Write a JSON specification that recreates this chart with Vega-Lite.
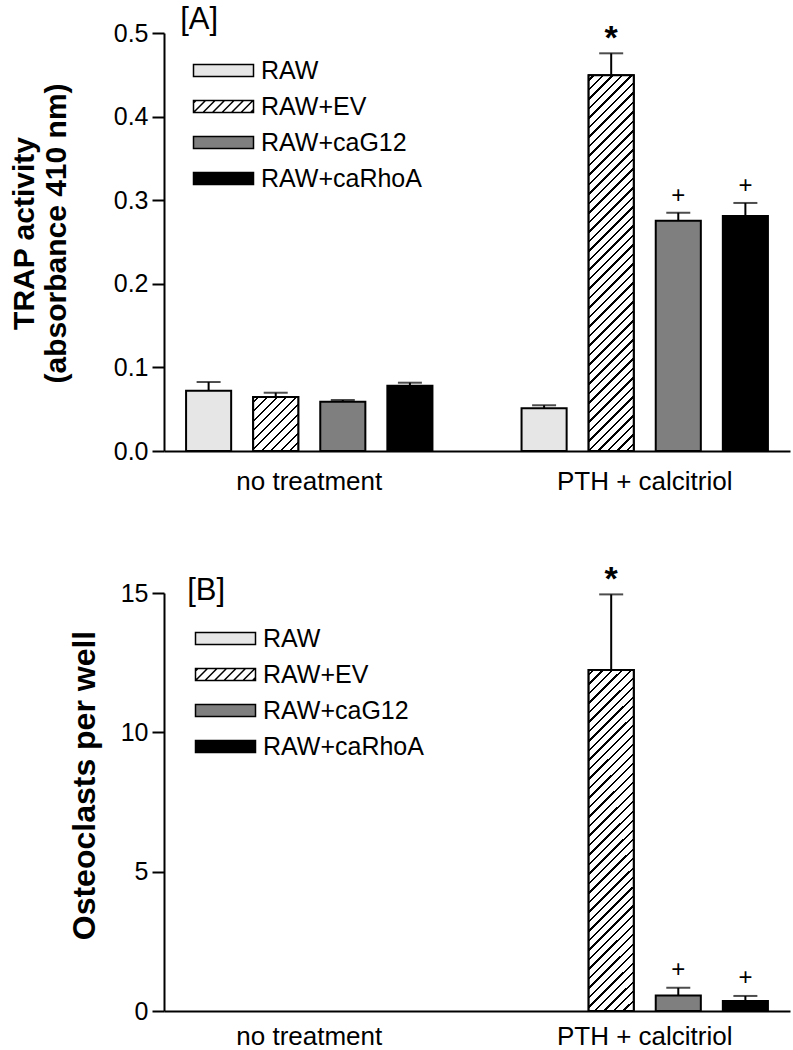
{
  "$schema": "https://vega.github.io/schema/vega-lite/v6.json",
  "autosize": {"type": "none"},
  "padding": {"left": 164, "top": 33, "right": 629, "bottom": 1017},
  "background": "white",
  "config": {
    "view": {"stroke": null},
    "font": "Liberation Sans",
    "axis": {"grid": false, "domainColor": "black", "domainWidth": 2, "tickColor": "black", "tickWidth": 2, "labelColor": "black", "labelFont": "Liberation Sans", "labelFontSize": 25, "labelLimit": 400, "titleColor": "black", "titleFont": "Liberation Sans"},
    "legend": {"orient": "none", "title": null, "padding": 0, "symbolSize": 100, "symbolStrokeColor": "black", "symbolStrokeWidth": 1.5, "labelFont": "Liberation Sans", "labelColor": "black", "labelLimit": 400}
  },
  "resolve": {"scale": {"fill": "independent", "shape": "independent"}, "legend": {"fill": "independent", "shape": "independent"}},
  "datasets": {
    "trap": [
      {"treatment": "no treatment", "cells": "RAW", "mean": 0.072, "upper": 0.0825, "sig": ""},
      {"treatment": "no treatment", "cells": "RAW+EV", "mean": 0.0646, "upper": 0.0697, "sig": ""},
      {"treatment": "no treatment", "cells": "RAW+caG12", "mean": 0.059, "upper": 0.061, "sig": ""},
      {"treatment": "no treatment", "cells": "RAW+caRhoA", "mean": 0.078, "upper": 0.0817, "sig": ""},
      {"treatment": "PTH + calcitriol", "cells": "RAW", "mean": 0.051, "upper": 0.0547, "sig": ""},
      {"treatment": "PTH + calcitriol", "cells": "RAW+EV", "mean": 0.4494, "upper": 0.4757, "sig": "*"},
      {"treatment": "PTH + calcitriol", "cells": "RAW+caG12", "mean": 0.2755, "upper": 0.285, "sig": "+"},
      {"treatment": "PTH + calcitriol", "cells": "RAW+caRhoA", "mean": 0.281, "upper": 0.2967, "sig": "+"}
    ],
    "ocl": [
      {"treatment": "no treatment", "cells": "RAW", "mean": 0, "upper": null, "sig": ""},
      {"treatment": "no treatment", "cells": "RAW+EV", "mean": 0, "upper": null, "sig": ""},
      {"treatment": "no treatment", "cells": "RAW+caG12", "mean": 0, "upper": null, "sig": ""},
      {"treatment": "no treatment", "cells": "RAW+caRhoA", "mean": 0, "upper": null, "sig": ""},
      {"treatment": "PTH + calcitriol", "cells": "RAW", "mean": 0, "upper": null, "sig": ""},
      {"treatment": "PTH + calcitriol", "cells": "RAW+EV", "mean": 12.24, "upper": 14.95, "sig": "*"},
      {"treatment": "PTH + calcitriol", "cells": "RAW+caG12", "mean": 0.56, "upper": 0.83, "sig": "+"},
      {"treatment": "PTH + calcitriol", "cells": "RAW+caRhoA", "mean": 0.36, "upper": 0.54, "sig": "+"}
    ]
  },
  "vconcat": [
    {
      "width": 626,
      "height": 418,
      "data": {"name": "trap"},
      "encoding": {
        "x": {"field": "treatment", "type": "nominal", "sort": ["no treatment", "PTH + calcitriol"], "scale": {"domain": ["no treatment", "PTH + calcitriol"], "paddingInner": 0.2, "paddingOuter": 0.033}, "axis": {"title": null, "ticks": false, "labelPadding": 17, "labelAngle": 0, "labelFontSize": 26}},
        "xOffset": {"field": "cells", "type": "nominal", "sort": ["RAW", "RAW+EV", "RAW+caG12", "RAW+caRhoA"], "scale": {"domain": ["RAW", "RAW+EV", "RAW+caG12", "RAW+caRhoA"], "paddingInner": 0.328, "paddingOuter": 0.164}}
      },
      "layer": [
        {
          "mark": {"type": "bar", "stroke": "black", "strokeWidth": 2},
          "encoding": {
            "y": {"field": "mean", "type": "quantitative", "scale": {"domain": [0, 0.5], "nice": false}, "axis": {"title": ["TRAP activity", "(absorbance 410 nm)"], "values": [0, 0.1, 0.2, 0.3, 0.4, 0.5], "format": ".1f", "tickSize": 12, "labelPadding": 4, "labelFlush": false, "titleFontSize": 30, "titleFontWeight": "bold", "titleX": -140, "titleY": 200, "titleBaseline": "middle", "titleAlign": "center", "titleAngle": -90, "titleLineHeight": 32}},
            "fill": {"field": "cells", "type": "nominal", "scale": {"domain": ["RAW", "RAW+EV", "RAW+caG12", "RAW+caRhoA"], "range": ["#e6e6e6", "#ffffff", "#7f7f7f", "#000000"]}, "legend": {"legendX": 47, "legendY": 25, "labelFontSize": 25, "labelOffset": 25, "rowPadding": 10}}
          }
        },
        {
          "transform": [{"filter": "datum.cells === 'RAW+EV' && datum.treatment === 'no treatment'"}],
          "mark": {"type": "bar", "stroke": "black", "strokeWidth": 2, "fill": {"gradient": "linear", "x1": 0, "y1": 0, "x2": 0.9016, "y2": 1.082, "stops": [
            {"offset": 0.0394, "color": "#ffffff"}, {"offset": 0.0394, "color": "#000000"}, {"offset": 0.0616, "color": "#000000"}, {"offset": 0.0616, "color": "#ffffff"},
            {"offset": 0.1354, "color": "#ffffff"}, {"offset": 0.1354, "color": "#000000"}, {"offset": 0.1576, "color": "#000000"}, {"offset": 0.1576, "color": "#ffffff"},
            {"offset": 0.2313, "color": "#ffffff"}, {"offset": 0.2313, "color": "#000000"}, {"offset": 0.2535, "color": "#000000"}, {"offset": 0.2535, "color": "#ffffff"},
            {"offset": 0.3273, "color": "#ffffff"}, {"offset": 0.3273, "color": "#000000"}, {"offset": 0.3495, "color": "#000000"}, {"offset": 0.3495, "color": "#ffffff"},
            {"offset": 0.4232, "color": "#ffffff"}, {"offset": 0.4232, "color": "#000000"}, {"offset": 0.4454, "color": "#000000"}, {"offset": 0.4454, "color": "#ffffff"},
            {"offset": 0.5192, "color": "#ffffff"}, {"offset": 0.5192, "color": "#000000"}, {"offset": 0.5414, "color": "#000000"}, {"offset": 0.5414, "color": "#ffffff"},
            {"offset": 0.6152, "color": "#ffffff"}, {"offset": 0.6152, "color": "#000000"}, {"offset": 0.6374, "color": "#000000"}, {"offset": 0.6374, "color": "#ffffff"},
            {"offset": 0.7111, "color": "#ffffff"}, {"offset": 0.7111, "color": "#000000"}, {"offset": 0.7333, "color": "#000000"}, {"offset": 0.7333, "color": "#ffffff"},
            {"offset": 0.8071, "color": "#ffffff"}, {"offset": 0.8071, "color": "#000000"}, {"offset": 0.8293, "color": "#000000"}, {"offset": 0.8293, "color": "#ffffff"},
            {"offset": 0.9030, "color": "#ffffff"}, {"offset": 0.9030, "color": "#000000"}, {"offset": 0.9252, "color": "#000000"}, {"offset": 0.9252, "color": "#ffffff"}
          ]}},
          "encoding": {"y": {"field": "mean", "type": "quantitative"}}
        },
        {
          "transform": [{"filter": "datum.cells === 'RAW+EV' && datum.treatment === 'PTH + calcitriol'"}],
          "mark": {"type": "bar", "stroke": "black", "strokeWidth": 2, "fill": {"gradient": "linear", "x1": 0, "y1": 0, "x2": 0.1322, "y2": 1.104, "stops": [
            {"offset": 0.0093, "color": "#ffffff"}, {"offset": 0.0093, "color": "#000000"}, {"offset": 0.0145, "color": "#000000"}, {"offset": 0.0145, "color": "#ffffff"},
            {"offset": 0.0319, "color": "#ffffff"}, {"offset": 0.0319, "color": "#000000"}, {"offset": 0.0371, "color": "#000000"}, {"offset": 0.0371, "color": "#ffffff"},
            {"offset": 0.0544, "color": "#ffffff"}, {"offset": 0.0544, "color": "#000000"}, {"offset": 0.0597, "color": "#000000"}, {"offset": 0.0597, "color": "#ffffff"},
            {"offset": 0.0770, "color": "#ffffff"}, {"offset": 0.0770, "color": "#000000"}, {"offset": 0.0822, "color": "#000000"}, {"offset": 0.0822, "color": "#ffffff"},
            {"offset": 0.0996, "color": "#ffffff"}, {"offset": 0.0996, "color": "#000000"}, {"offset": 0.1048, "color": "#000000"}, {"offset": 0.1048, "color": "#ffffff"},
            {"offset": 0.1222, "color": "#ffffff"}, {"offset": 0.1222, "color": "#000000"}, {"offset": 0.1274, "color": "#000000"}, {"offset": 0.1274, "color": "#ffffff"},
            {"offset": 0.1448, "color": "#ffffff"}, {"offset": 0.1448, "color": "#000000"}, {"offset": 0.1500, "color": "#000000"}, {"offset": 0.1500, "color": "#ffffff"},
            {"offset": 0.1673, "color": "#ffffff"}, {"offset": 0.1673, "color": "#000000"}, {"offset": 0.1726, "color": "#000000"}, {"offset": 0.1726, "color": "#ffffff"},
            {"offset": 0.1899, "color": "#ffffff"}, {"offset": 0.1899, "color": "#000000"}, {"offset": 0.1952, "color": "#000000"}, {"offset": 0.1952, "color": "#ffffff"},
            {"offset": 0.2125, "color": "#ffffff"}, {"offset": 0.2125, "color": "#000000"}, {"offset": 0.2177, "color": "#000000"}, {"offset": 0.2177, "color": "#ffffff"},
            {"offset": 0.2351, "color": "#ffffff"}, {"offset": 0.2351, "color": "#000000"}, {"offset": 0.2403, "color": "#000000"}, {"offset": 0.2403, "color": "#ffffff"},
            {"offset": 0.2577, "color": "#ffffff"}, {"offset": 0.2577, "color": "#000000"}, {"offset": 0.2629, "color": "#000000"}, {"offset": 0.2629, "color": "#ffffff"},
            {"offset": 0.2803, "color": "#ffffff"}, {"offset": 0.2803, "color": "#000000"}, {"offset": 0.2855, "color": "#000000"}, {"offset": 0.2855, "color": "#ffffff"},
            {"offset": 0.3028, "color": "#ffffff"}, {"offset": 0.3028, "color": "#000000"}, {"offset": 0.3081, "color": "#000000"}, {"offset": 0.3081, "color": "#ffffff"},
            {"offset": 0.3254, "color": "#ffffff"}, {"offset": 0.3254, "color": "#000000"}, {"offset": 0.3306, "color": "#000000"}, {"offset": 0.3306, "color": "#ffffff"},
            {"offset": 0.3480, "color": "#ffffff"}, {"offset": 0.3480, "color": "#000000"}, {"offset": 0.3532, "color": "#000000"}, {"offset": 0.3532, "color": "#ffffff"},
            {"offset": 0.3706, "color": "#ffffff"}, {"offset": 0.3706, "color": "#000000"}, {"offset": 0.3758, "color": "#000000"}, {"offset": 0.3758, "color": "#ffffff"},
            {"offset": 0.3932, "color": "#ffffff"}, {"offset": 0.3932, "color": "#000000"}, {"offset": 0.3984, "color": "#000000"}, {"offset": 0.3984, "color": "#ffffff"},
            {"offset": 0.4157, "color": "#ffffff"}, {"offset": 0.4157, "color": "#000000"}, {"offset": 0.4210, "color": "#000000"}, {"offset": 0.4210, "color": "#ffffff"},
            {"offset": 0.4383, "color": "#ffffff"}, {"offset": 0.4383, "color": "#000000"}, {"offset": 0.4436, "color": "#000000"}, {"offset": 0.4436, "color": "#ffffff"},
            {"offset": 0.4609, "color": "#ffffff"}, {"offset": 0.4609, "color": "#000000"}, {"offset": 0.4661, "color": "#000000"}, {"offset": 0.4661, "color": "#ffffff"},
            {"offset": 0.4835, "color": "#ffffff"}, {"offset": 0.4835, "color": "#000000"}, {"offset": 0.4887, "color": "#000000"}, {"offset": 0.4887, "color": "#ffffff"},
            {"offset": 0.5061, "color": "#ffffff"}, {"offset": 0.5061, "color": "#000000"}, {"offset": 0.5113, "color": "#000000"}, {"offset": 0.5113, "color": "#ffffff"},
            {"offset": 0.5287, "color": "#ffffff"}, {"offset": 0.5287, "color": "#000000"}, {"offset": 0.5339, "color": "#000000"}, {"offset": 0.5339, "color": "#ffffff"},
            {"offset": 0.5512, "color": "#ffffff"}, {"offset": 0.5512, "color": "#000000"}, {"offset": 0.5565, "color": "#000000"}, {"offset": 0.5565, "color": "#ffffff"},
            {"offset": 0.5738, "color": "#ffffff"}, {"offset": 0.5738, "color": "#000000"}, {"offset": 0.5790, "color": "#000000"}, {"offset": 0.5790, "color": "#ffffff"},
            {"offset": 0.5964, "color": "#ffffff"}, {"offset": 0.5964, "color": "#000000"}, {"offset": 0.6016, "color": "#000000"}, {"offset": 0.6016, "color": "#ffffff"},
            {"offset": 0.6190, "color": "#ffffff"}, {"offset": 0.6190, "color": "#000000"}, {"offset": 0.6242, "color": "#000000"}, {"offset": 0.6242, "color": "#ffffff"},
            {"offset": 0.6416, "color": "#ffffff"}, {"offset": 0.6416, "color": "#000000"}, {"offset": 0.6468, "color": "#000000"}, {"offset": 0.6468, "color": "#ffffff"},
            {"offset": 0.6641, "color": "#ffffff"}, {"offset": 0.6641, "color": "#000000"}, {"offset": 0.6694, "color": "#000000"}, {"offset": 0.6694, "color": "#ffffff"},
            {"offset": 0.6867, "color": "#ffffff"}, {"offset": 0.6867, "color": "#000000"}, {"offset": 0.6920, "color": "#000000"}, {"offset": 0.6920, "color": "#ffffff"},
            {"offset": 0.7093, "color": "#ffffff"}, {"offset": 0.7093, "color": "#000000"}, {"offset": 0.7145, "color": "#000000"}, {"offset": 0.7145, "color": "#ffffff"},
            {"offset": 0.7319, "color": "#ffffff"}, {"offset": 0.7319, "color": "#000000"}, {"offset": 0.7371, "color": "#000000"}, {"offset": 0.7371, "color": "#ffffff"},
            {"offset": 0.7545, "color": "#ffffff"}, {"offset": 0.7545, "color": "#000000"}, {"offset": 0.7597, "color": "#000000"}, {"offset": 0.7597, "color": "#ffffff"},
            {"offset": 0.7771, "color": "#ffffff"}, {"offset": 0.7771, "color": "#000000"}, {"offset": 0.7823, "color": "#000000"}, {"offset": 0.7823, "color": "#ffffff"},
            {"offset": 0.7996, "color": "#ffffff"}, {"offset": 0.7996, "color": "#000000"}, {"offset": 0.8049, "color": "#000000"}, {"offset": 0.8049, "color": "#ffffff"},
            {"offset": 0.8222, "color": "#ffffff"}, {"offset": 0.8222, "color": "#000000"}, {"offset": 0.8274, "color": "#000000"}, {"offset": 0.8274, "color": "#ffffff"},
            {"offset": 0.8448, "color": "#ffffff"}, {"offset": 0.8448, "color": "#000000"}, {"offset": 0.8500, "color": "#000000"}, {"offset": 0.8500, "color": "#ffffff"},
            {"offset": 0.8674, "color": "#ffffff"}, {"offset": 0.8674, "color": "#000000"}, {"offset": 0.8726, "color": "#000000"}, {"offset": 0.8726, "color": "#ffffff"},
            {"offset": 0.8900, "color": "#ffffff"}, {"offset": 0.8900, "color": "#000000"}, {"offset": 0.8952, "color": "#000000"}, {"offset": 0.8952, "color": "#ffffff"},
            {"offset": 0.9126, "color": "#ffffff"}, {"offset": 0.9126, "color": "#000000"}, {"offset": 0.9178, "color": "#000000"}, {"offset": 0.9178, "color": "#ffffff"},
            {"offset": 0.9351, "color": "#ffffff"}, {"offset": 0.9351, "color": "#000000"}, {"offset": 0.9403, "color": "#000000"}, {"offset": 0.9403, "color": "#ffffff"},
            {"offset": 0.9577, "color": "#ffffff"}, {"offset": 0.9577, "color": "#000000"}, {"offset": 0.9629, "color": "#000000"}, {"offset": 0.9629, "color": "#ffffff"},
            {"offset": 0.9803, "color": "#ffffff"}, {"offset": 0.9803, "color": "#000000"}, {"offset": 0.9855, "color": "#000000"}, {"offset": 0.9855, "color": "#ffffff"}
          ]}},
          "encoding": {"y": {"field": "mean", "type": "quantitative"}}
        },
        {
          "transform": [{"filter": "datum.upper != null"}],
          "mark": {"type": "rule", "color": "black", "strokeWidth": 2},
          "encoding": {"y": {"field": "mean", "type": "quantitative"}, "y2": {"field": "upper"}}
        },
        {
          "transform": [{"filter": "datum.upper != null"}],
          "mark": {"type": "tick", "orient": "horizontal", "color": "black", "size": 24, "thickness": 2},
          "encoding": {"y": {"field": "upper", "type": "quantitative"}}
        },
        {
          "transform": [{"filter": "datum.sig === '*'"}],
          "mark": {"type": "text", "baseline": "alphabetic", "dy": -4, "fontSize": 34, "fontWeight": "bold", "font": "Liberation Sans", "color": "black"},
          "encoding": {"y": {"field": "upper", "type": "quantitative"}, "text": {"field": "sig"}}
        },
        {
          "transform": [{"filter": "datum.sig === '+'"}],
          "mark": {"type": "text", "baseline": "alphabetic", "dy": -10, "fontSize": 24, "font": "Liberation Sans", "color": "black"},
          "encoding": {"y": {"field": "upper", "type": "quantitative"}, "text": {"field": "sig"}}
        },
        {
          "transform": [{"filter": "datum.mean < 0"}],
          "mark": {"type": "point", "filled": true, "stroke": "black", "strokeWidth": 1.5, "opacity": 1, "size": 100},
          "encoding": {
            "y": {"field": "mean", "type": "quantitative"},
            "fill": {"field": "cells", "type": "nominal", "scale": {"domain": ["RAW", "RAW+EV", "RAW+caG12", "RAW+caRhoA"], "range": ["#e6e6e6", "#ffffff", "#7f7f7f", "#000000"]}, "legend": {"legendX": 47, "legendY": 25, "labelFontSize": 25, "labelOffset": 25, "rowPadding": 10}},
            "shape": {"field": "cells", "type": "nominal", "scale": {"domain": ["RAW", "RAW+EV", "RAW+caG12", "RAW+caRhoA"], "range": ["M-6,-1.2H6V1.2H-6Z", "M-6,-1.2H6V1.2H-6Z M-6,1.2L-3.6,-1.2 M-4.1,1.2L-1.7,-1.2 M-2.2,1.2L0.2,-1.2 M-0.3,1.2L2.1,-1.2 M1.6,1.2L4,-1.2 M3.5,1.2L5.9,-1.2 M-6,-0.7L-5.5,-1.2 M5.4,1.2L6,0.6", "M-6,-1.2H6V1.2H-6Z", "M-6,-1.2H6V1.2H-6Z"]}, "legend": {"legendX": 47, "legendY": 25, "labelFontSize": 25, "labelOffset": 25, "rowPadding": 10}}
          }
        },
        {
          "data": {"values": [{"label": "[A]"}]},
          "mark": {"type": "text", "align": "left", "baseline": "alphabetic", "dx": -129, "dy": -4, "fontSize": 31, "font": "Liberation Sans", "color": "black"},
          "encoding": {"x": {"datum": "no treatment", "type": "nominal"}, "xOffset": null, "y": {"datum": 0.5, "type": "quantitative"}, "text": {"field": "label"}}
        }
      ]
    },
    {
      "width": 626,
      "height": 418,
      "data": {"name": "ocl"},
      "encoding": {
        "x": {"field": "treatment", "type": "nominal", "sort": ["no treatment", "PTH + calcitriol"], "scale": {"domain": ["no treatment", "PTH + calcitriol"], "paddingInner": 0.2, "paddingOuter": 0.033}, "axis": {"title": null, "ticks": false, "labelPadding": 12, "labelAngle": 0, "labelFontSize": 26}},
        "xOffset": {"field": "cells", "type": "nominal", "sort": ["RAW", "RAW+EV", "RAW+caG12", "RAW+caRhoA"], "scale": {"domain": ["RAW", "RAW+EV", "RAW+caG12", "RAW+caRhoA"], "paddingInner": 0.328, "paddingOuter": 0.164}}
      },
      "layer": [
        {
          "transform": [{"filter": "datum.mean > 0"}],
          "mark": {"type": "bar", "stroke": "black", "strokeWidth": 2},
          "encoding": {
            "y": {"field": "mean", "type": "quantitative", "scale": {"domain": [0, 15], "nice": false}, "axis": {"title": "Osteoclasts per well", "values": [0, 5, 10, 15], "tickSize": 12, "labelPadding": 4, "labelFlush": false, "titleFontSize": 32, "titleFontWeight": "bold", "titleX": -80, "titleY": 192, "titleBaseline": "middle", "titleAlign": "center", "titleAngle": -90}},
            "fill": {"field": "cells", "type": "nominal", "scale": {"domain": ["RAW", "RAW+EV", "RAW+caG12", "RAW+caRhoA"], "range": ["#e6e6e6", "#ffffff", "#7f7f7f", "#000000"]}, "legend": {"legendX": 49, "legendY": 33, "labelFontSize": 25, "labelOffset": 25, "rowPadding": 10}}
          }
        },
        {
          "transform": [{"filter": "datum.cells === 'RAW+EV' && datum.treatment === 'PTH + calcitriol'"}],
          "mark": {"type": "bar", "stroke": "black", "strokeWidth": 2, "fill": {"gradient": "linear", "x1": 0, "y1": 0, "x2": 0.1468, "y2": 1.1125, "stops": [
            {"offset": 0.0101, "color": "#ffffff"}, {"offset": 0.0101, "color": "#000000"}, {"offset": 0.0158, "color": "#000000"}, {"offset": 0.0158, "color": "#ffffff"},
            {"offset": 0.0347, "color": "#ffffff"}, {"offset": 0.0347, "color": "#000000"}, {"offset": 0.0404, "color": "#000000"}, {"offset": 0.0404, "color": "#ffffff"},
            {"offset": 0.0593, "color": "#ffffff"}, {"offset": 0.0593, "color": "#000000"}, {"offset": 0.0650, "color": "#000000"}, {"offset": 0.0650, "color": "#ffffff"},
            {"offset": 0.0839, "color": "#ffffff"}, {"offset": 0.0839, "color": "#000000"}, {"offset": 0.0896, "color": "#000000"}, {"offset": 0.0896, "color": "#ffffff"},
            {"offset": 0.1085, "color": "#ffffff"}, {"offset": 0.1085, "color": "#000000"}, {"offset": 0.1142, "color": "#000000"}, {"offset": 0.1142, "color": "#ffffff"},
            {"offset": 0.1331, "color": "#ffffff"}, {"offset": 0.1331, "color": "#000000"}, {"offset": 0.1388, "color": "#000000"}, {"offset": 0.1388, "color": "#ffffff"},
            {"offset": 0.1577, "color": "#ffffff"}, {"offset": 0.1577, "color": "#000000"}, {"offset": 0.1634, "color": "#000000"}, {"offset": 0.1634, "color": "#ffffff"},
            {"offset": 0.1823, "color": "#ffffff"}, {"offset": 0.1823, "color": "#000000"}, {"offset": 0.1880, "color": "#000000"}, {"offset": 0.1880, "color": "#ffffff"},
            {"offset": 0.2069, "color": "#ffffff"}, {"offset": 0.2069, "color": "#000000"}, {"offset": 0.2126, "color": "#000000"}, {"offset": 0.2126, "color": "#ffffff"},
            {"offset": 0.2315, "color": "#ffffff"}, {"offset": 0.2315, "color": "#000000"}, {"offset": 0.2372, "color": "#000000"}, {"offset": 0.2372, "color": "#ffffff"},
            {"offset": 0.2562, "color": "#ffffff"}, {"offset": 0.2562, "color": "#000000"}, {"offset": 0.2618, "color": "#000000"}, {"offset": 0.2618, "color": "#ffffff"},
            {"offset": 0.2808, "color": "#ffffff"}, {"offset": 0.2808, "color": "#000000"}, {"offset": 0.2864, "color": "#000000"}, {"offset": 0.2864, "color": "#ffffff"},
            {"offset": 0.3054, "color": "#ffffff"}, {"offset": 0.3054, "color": "#000000"}, {"offset": 0.3111, "color": "#000000"}, {"offset": 0.3111, "color": "#ffffff"},
            {"offset": 0.3300, "color": "#ffffff"}, {"offset": 0.3300, "color": "#000000"}, {"offset": 0.3357, "color": "#000000"}, {"offset": 0.3357, "color": "#ffffff"},
            {"offset": 0.3546, "color": "#ffffff"}, {"offset": 0.3546, "color": "#000000"}, {"offset": 0.3603, "color": "#000000"}, {"offset": 0.3603, "color": "#ffffff"},
            {"offset": 0.3792, "color": "#ffffff"}, {"offset": 0.3792, "color": "#000000"}, {"offset": 0.3849, "color": "#000000"}, {"offset": 0.3849, "color": "#ffffff"},
            {"offset": 0.4038, "color": "#ffffff"}, {"offset": 0.4038, "color": "#000000"}, {"offset": 0.4095, "color": "#000000"}, {"offset": 0.4095, "color": "#ffffff"},
            {"offset": 0.4284, "color": "#ffffff"}, {"offset": 0.4284, "color": "#000000"}, {"offset": 0.4341, "color": "#000000"}, {"offset": 0.4341, "color": "#ffffff"},
            {"offset": 0.4530, "color": "#ffffff"}, {"offset": 0.4530, "color": "#000000"}, {"offset": 0.4587, "color": "#000000"}, {"offset": 0.4587, "color": "#ffffff"},
            {"offset": 0.4776, "color": "#ffffff"}, {"offset": 0.4776, "color": "#000000"}, {"offset": 0.4833, "color": "#000000"}, {"offset": 0.4833, "color": "#ffffff"},
            {"offset": 0.5022, "color": "#ffffff"}, {"offset": 0.5022, "color": "#000000"}, {"offset": 0.5079, "color": "#000000"}, {"offset": 0.5079, "color": "#ffffff"},
            {"offset": 0.5268, "color": "#ffffff"}, {"offset": 0.5268, "color": "#000000"}, {"offset": 0.5325, "color": "#000000"}, {"offset": 0.5325, "color": "#ffffff"},
            {"offset": 0.5514, "color": "#ffffff"}, {"offset": 0.5514, "color": "#000000"}, {"offset": 0.5571, "color": "#000000"}, {"offset": 0.5571, "color": "#ffffff"},
            {"offset": 0.5760, "color": "#ffffff"}, {"offset": 0.5760, "color": "#000000"}, {"offset": 0.5817, "color": "#000000"}, {"offset": 0.5817, "color": "#ffffff"},
            {"offset": 0.6006, "color": "#ffffff"}, {"offset": 0.6006, "color": "#000000"}, {"offset": 0.6063, "color": "#000000"}, {"offset": 0.6063, "color": "#ffffff"},
            {"offset": 0.6252, "color": "#ffffff"}, {"offset": 0.6252, "color": "#000000"}, {"offset": 0.6309, "color": "#000000"}, {"offset": 0.6309, "color": "#ffffff"},
            {"offset": 0.6498, "color": "#ffffff"}, {"offset": 0.6498, "color": "#000000"}, {"offset": 0.6555, "color": "#000000"}, {"offset": 0.6555, "color": "#ffffff"},
            {"offset": 0.6744, "color": "#ffffff"}, {"offset": 0.6744, "color": "#000000"}, {"offset": 0.6801, "color": "#000000"}, {"offset": 0.6801, "color": "#ffffff"},
            {"offset": 0.6990, "color": "#ffffff"}, {"offset": 0.6990, "color": "#000000"}, {"offset": 0.7047, "color": "#000000"}, {"offset": 0.7047, "color": "#ffffff"},
            {"offset": 0.7236, "color": "#ffffff"}, {"offset": 0.7236, "color": "#000000"}, {"offset": 0.7293, "color": "#000000"}, {"offset": 0.7293, "color": "#ffffff"},
            {"offset": 0.7483, "color": "#ffffff"}, {"offset": 0.7483, "color": "#000000"}, {"offset": 0.7539, "color": "#000000"}, {"offset": 0.7539, "color": "#ffffff"},
            {"offset": 0.7729, "color": "#ffffff"}, {"offset": 0.7729, "color": "#000000"}, {"offset": 0.7785, "color": "#000000"}, {"offset": 0.7785, "color": "#ffffff"},
            {"offset": 0.7975, "color": "#ffffff"}, {"offset": 0.7975, "color": "#000000"}, {"offset": 0.8032, "color": "#000000"}, {"offset": 0.8032, "color": "#ffffff"},
            {"offset": 0.8221, "color": "#ffffff"}, {"offset": 0.8221, "color": "#000000"}, {"offset": 0.8278, "color": "#000000"}, {"offset": 0.8278, "color": "#ffffff"},
            {"offset": 0.8467, "color": "#ffffff"}, {"offset": 0.8467, "color": "#000000"}, {"offset": 0.8524, "color": "#000000"}, {"offset": 0.8524, "color": "#ffffff"},
            {"offset": 0.8713, "color": "#ffffff"}, {"offset": 0.8713, "color": "#000000"}, {"offset": 0.8770, "color": "#000000"}, {"offset": 0.8770, "color": "#ffffff"},
            {"offset": 0.8959, "color": "#ffffff"}, {"offset": 0.8959, "color": "#000000"}, {"offset": 0.9016, "color": "#000000"}, {"offset": 0.9016, "color": "#ffffff"},
            {"offset": 0.9205, "color": "#ffffff"}, {"offset": 0.9205, "color": "#000000"}, {"offset": 0.9262, "color": "#000000"}, {"offset": 0.9262, "color": "#ffffff"},
            {"offset": 0.9451, "color": "#ffffff"}, {"offset": 0.9451, "color": "#000000"}, {"offset": 0.9508, "color": "#000000"}, {"offset": 0.9508, "color": "#ffffff"},
            {"offset": 0.9697, "color": "#ffffff"}, {"offset": 0.9697, "color": "#000000"}, {"offset": 0.9754, "color": "#000000"}, {"offset": 0.9754, "color": "#ffffff"}
          ]}},
          "encoding": {"y": {"field": "mean", "type": "quantitative"}}
        },
        {
          "transform": [{"filter": "datum.upper != null"}],
          "mark": {"type": "rule", "color": "black", "strokeWidth": 2},
          "encoding": {"y": {"field": "mean", "type": "quantitative"}, "y2": {"field": "upper"}}
        },
        {
          "transform": [{"filter": "datum.upper != null"}],
          "mark": {"type": "tick", "orient": "horizontal", "color": "black", "size": 24, "thickness": 2},
          "encoding": {"y": {"field": "upper", "type": "quantitative"}}
        },
        {
          "transform": [{"filter": "datum.sig === '*'"}],
          "mark": {"type": "text", "baseline": "alphabetic", "dy": -4, "fontSize": 34, "fontWeight": "bold", "font": "Liberation Sans", "color": "black"},
          "encoding": {"y": {"field": "upper", "type": "quantitative"}, "text": {"field": "sig"}}
        },
        {
          "transform": [{"filter": "datum.sig === '+'"}],
          "mark": {"type": "text", "baseline": "alphabetic", "dy": -11, "fontSize": 24, "font": "Liberation Sans", "color": "black"},
          "encoding": {"y": {"field": "upper", "type": "quantitative"}, "text": {"field": "sig"}}
        },
        {
          "transform": [{"filter": "datum.mean < 0"}],
          "mark": {"type": "point", "filled": true, "stroke": "black", "strokeWidth": 1.5, "opacity": 1, "size": 100},
          "encoding": {
            "y": {"field": "mean", "type": "quantitative"},
            "fill": {"field": "cells", "type": "nominal", "scale": {"domain": ["RAW", "RAW+EV", "RAW+caG12", "RAW+caRhoA"], "range": ["#e6e6e6", "#ffffff", "#7f7f7f", "#000000"]}, "legend": {"legendX": 49, "legendY": 33, "labelFontSize": 25, "labelOffset": 25, "rowPadding": 10}},
            "shape": {"field": "cells", "type": "nominal", "scale": {"domain": ["RAW", "RAW+EV", "RAW+caG12", "RAW+caRhoA"], "range": ["M-6,-1.2H6V1.2H-6Z", "M-6,-1.2H6V1.2H-6Z M-6,1.2L-3.6,-1.2 M-4.1,1.2L-1.7,-1.2 M-2.2,1.2L0.2,-1.2 M-0.3,1.2L2.1,-1.2 M1.6,1.2L4,-1.2 M3.5,1.2L5.9,-1.2 M-6,-0.7L-5.5,-1.2 M5.4,1.2L6,0.6", "M-6,-1.2H6V1.2H-6Z", "M-6,-1.2H6V1.2H-6Z"]}, "legend": {"legendX": 49, "legendY": 33, "labelFontSize": 25, "labelOffset": 25, "rowPadding": 10}}
          }
        },
        {
          "data": {"values": [{"label": "[B]"}]},
          "mark": {"type": "text", "align": "left", "baseline": "alphabetic", "dx": -122, "dy": 7, "fontSize": 31, "font": "Liberation Sans", "color": "black"},
          "encoding": {"x": {"datum": "no treatment", "type": "nominal"}, "xOffset": null, "y": {"datum": 15, "type": "quantitative"}, "text": {"field": "label"}}
        }
      ]
    }
  ],
  "spacing": 142,
  "bounds": "flush"
}
